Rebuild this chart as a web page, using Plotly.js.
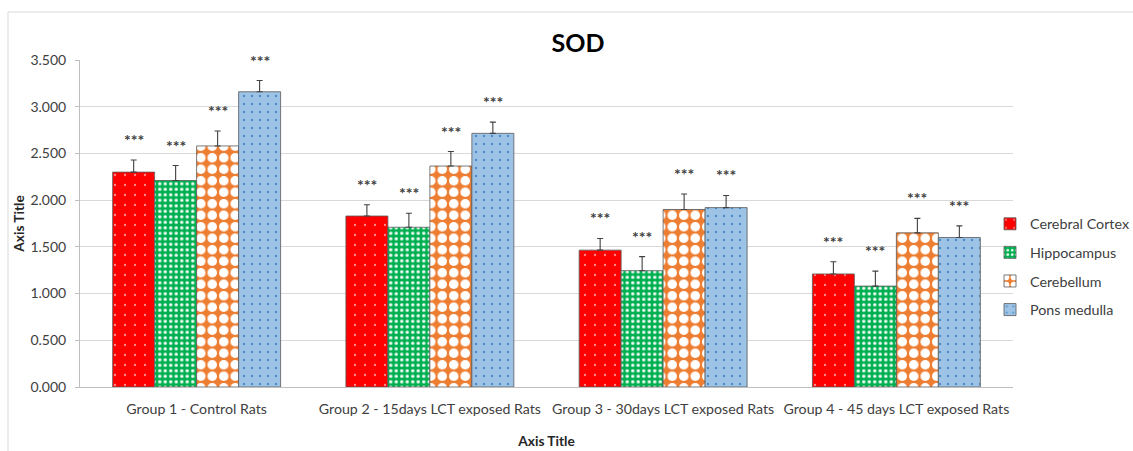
<!DOCTYPE html>
<html>
<head>
<meta charset="utf-8">
<script src="https://cdn.plot.ly/plotly-3.0.1.min.js"></script>
<style>html,body{margin:0;padding:0;background:#fff;}#chart{width:1133px;height:451px;}</style>
</head>
<body>
<div id="chart"></div>
<script>
const categories = ["Group 1 - Control Rats", "Group 2 - 15days LCT exposed Rats", "Group 3 - 30days LCT exposed Rats", "Group 4 - 45 days LCT exposed Rats"];
const seriesNames = ["Cerebral Cortex", "Hippocampus", "Cerebellum", "Pons medulla"];
const cerebralCortex = [2.30, 1.83, 1.465, 1.21];
const cerebralCortexErr = [0.13, 0.12, 0.125, 0.13];
const hippocampus = [2.21, 1.71, 1.245, 1.08];
const hippocampusErr = [0.16, 0.15, 0.15, 0.16];
const cerebellum = [2.58, 2.365, 1.90, 1.65];
const cerebellumErr = [0.16, 0.155, 0.165, 0.155];
const ponsMedulla = [3.16, 2.715, 1.92, 1.60];
const ponsMedullaErr = [0.12, 0.12, 0.13, 0.125];
const significance = ["***", "***", "***", "***"];
const yTicks = [0, 0.5, 1, 1.5, 2, 2.5, 3, 3.5];

const values = [cerebralCortex, hippocampus, cerebellum, ponsMedulla];
const errs = [cerebralCortexErr, hippocampusErr, cerebellumErr, ponsMedullaErr];

const styles = [
  {color: "#ff0000", pattern: {shape: ".", bgcolor: "#ff0000", fgcolor: "#ffffff", fgopacity: 0.55, size: 10, solidity: 0.04, fillmode: "overlay"}},
  {color: "#00b050", pattern: {shape: ".", bgcolor: "#00b050", fgcolor: "#ffffff", fgopacity: 0.95, size: 5.5, solidity: 0.3, fillmode: "overlay"}},
  {color: "#ed7d31", pattern: {shape: ".", bgcolor: "#ed7d31", fgcolor: "#ffffff", fgopacity: 1, size: 11.5, solidity: 0.55, fillmode: "overlay"}},
  {color: "#9dc3e6", pattern: {shape: ".", bgcolor: "#9dc3e6", fgcolor: "#2e75b6", fgopacity: 0.7, size: 8, solidity: 0.08, fillmode: "overlay"}}
];

const FONT = "Lato, 'Open Sans', sans-serif";
const W = 1133, H = 451;
const margin = {l: 80, r: 120, t: 60, b: 64, pad: 0, autoexpand: false};
const bargap = 0.28;

const traces = seriesNames.map((name, i) => ({
  type: "bar",
  name: name,
  x: categories,
  y: values[i],
  legendgroup: "g" + i,
  marker: {color: styles[i].color, pattern: styles[i].pattern, line: {color: "#595959", width: 0.8}},
  error_y: {type: "data", array: errs[i], arrayminus: errs[i].map(() => 0), symmetric: false, color: "#404040", thickness: 1.1, width: 3}
}));

const plotW = W - margin.l - margin.r;
const catW = plotW / categories.length;
const barW = catW * (1 - bargap) / seriesNames.length;

const annotations = [];
seriesNames.forEach((name, i) => {
  categories.forEach((c, j) => {
    annotations.push({
      x: c, y: values[i][j] + errs[i][j], xref: "x", yref: "y",
      text: "<b>" + significance[i] + "</b>", showarrow: false,
      xshift: (i - (seriesNames.length - 1) / 2) * barW,
      yanchor: "bottom", yshift: 9,
      font: {family: FONT, size: 16, color: "#404040"}
    });
  });
});

const pxX = p => (p - margin.l) / plotW;
const plotH = H - margin.t - margin.b;
const pxY = p => (H - margin.b - p) / plotH;

const layout = {
  width: W, height: H,
  margin: margin,
  paper_bgcolor: "#ffffff", plot_bgcolor: "#ffffff",
  font: {family: FONT, size: 12, color: "#595959"},
  barmode: "group",
  bargap: bargap,
  bargroupgap: 0,
  title: {text: "<b>SOD</b>", font: {family: FONT, size: 25, color: "#000000"}, xref: "container", yref: "container", x: 578 / W, y: 1 - 43 / H, xanchor: "center", yanchor: "middle"},
  xaxis: {
    type: "category",
    showgrid: false, zeroline: false,
    showline: true, linecolor: "#bfbfbf", linewidth: 1,
    ticks: "", ticklabelstandoff: 9,
    tickfont: {family: FONT, size: 14.2, color: "#404040"},
    automargin: false,
    title: {text: "<b>Axis Title</b>", font: {family: FONT, size: 13.7, color: "#262626"}, standoff: 20}
  },
  yaxis: {
    range: [0, 3.5],
    tickvals: yTicks,
    tickformat: ".3f",
    showgrid: true, gridcolor: "#d9d9d9", gridwidth: 1,
    zeroline: false,
    showline: true, linecolor: "#bfbfbf", linewidth: 1,
    ticks: "outside", ticklen: 4, tickcolor: "#bfbfbf",
    ticklabelstandoff: 6,
    automargin: false,
    tickfont: {family: FONT, size: 14, color: "#404040"},
    title: {text: "<b>Axis Title</b>", font: {family: FONT, size: 13.7, color: "#262626"}, standoff: 2}
  },
  legend: {
    xref: "container", yref: "container",
    x: 990 / W, y: 1 - 208 / H, xanchor: "left", yanchor: "top",
    traceorder: "grouped", tracegroupgap: 7,
    font: {family: FONT, size: 14.3, color: "#404040"},
    itemwidth: 30, bgcolor: "rgba(0,0,0,0)"
  },
  annotations: annotations,
  shapes: [{
    type: "rect", xref: "paper", yref: "paper",
    x0: pxX(8), x1: pxX(1250), y0: pxY(480), y1: pxY(12),
    line: {color: "#d9d9d9", width: 1}, fillcolor: "rgba(0,0,0,0)", layer: "below"
  }]
};

Plotly.newPlot("chart", traces, layout, {displayModeBar: false, staticPlot: true});
</script>
</body>
</html>
